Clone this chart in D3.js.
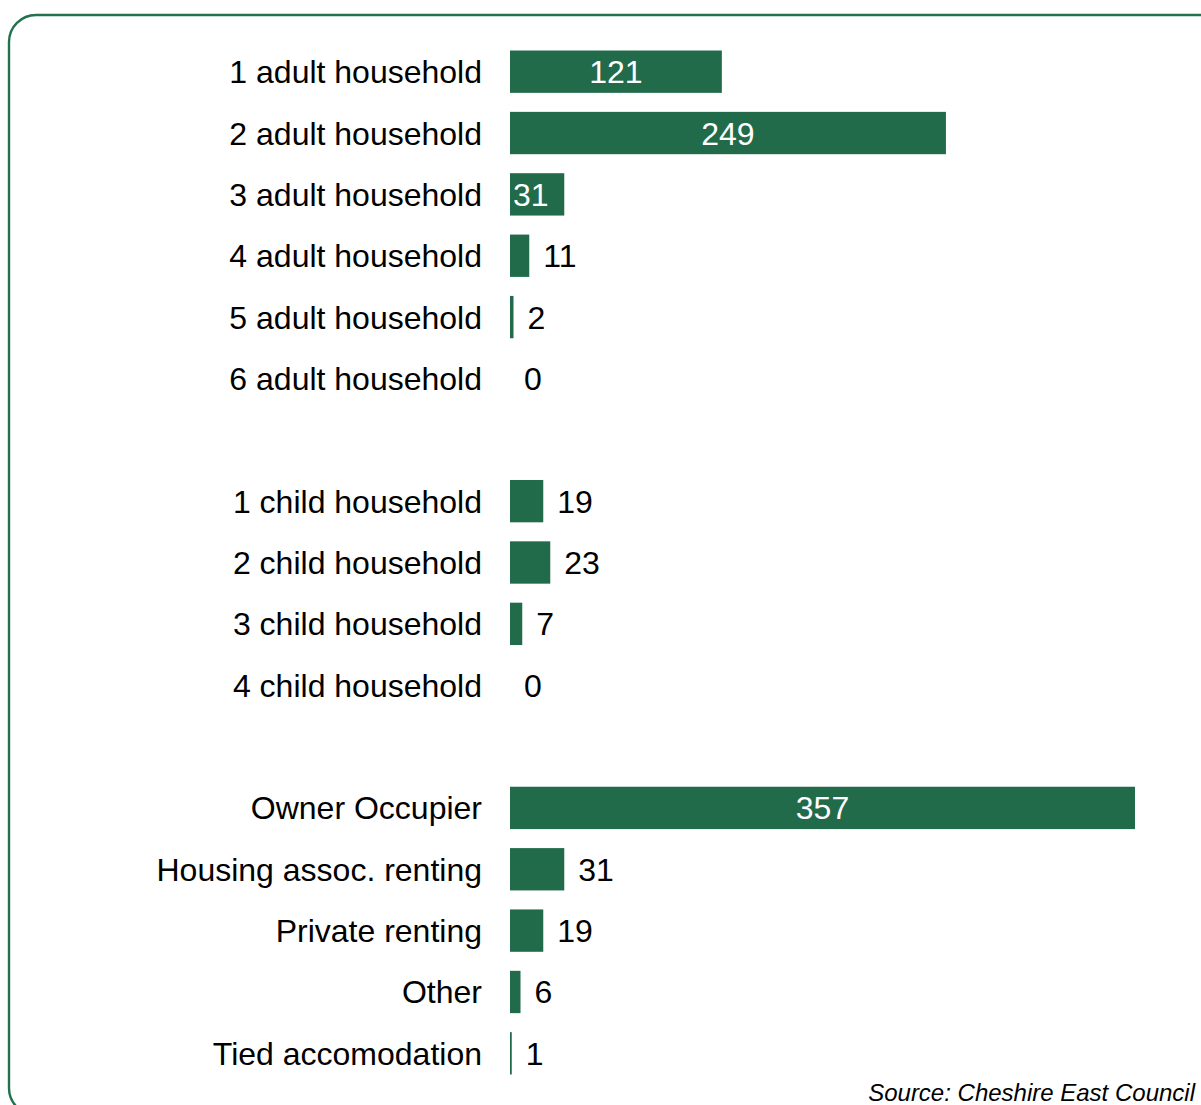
<!DOCTYPE html>
<html>
<head>
<meta charset="utf-8">
<script src="https://cdn.jsdelivr.net/npm/d3@7"></script>
<style>
  body { margin: 0; background: #fff; }
  svg { display: block; font-family: "Liberation Sans", Arial, sans-serif; }
</style>
</head>
<body>
<svg id="chart"></svg>
<script>
// household size (adults)
var adultLabels = ["1 adult household", "2 adult household", "3 adult household",
                   "4 adult household", "5 adult household", "6 adult household"];
var adultValues = [121, 249, 31, 11, 2, 0];

// household size (children)
var childLabels = ["1 child household", "2 child household", "3 child household", "4 child household"];
var childValues = [19, 23, 7, 0];

// tenure
var tenureLabels = ["Owner Occupier", "Housing assoc. renting", "Private renting", "Other", "Tied accomodation"];
var tenureValues = [357, 31, 19, 6, 1];

var sourceText = "Source: Cheshire East Council";

// labels drawn in white inside the bar
var insideLabels = ["1 adult household", "2 adult household", "3 adult household", "Owner Occupier"];

var width = 1201, height = 1105;
var svg = d3.select("#chart").attr("width", width).attr("height", height);

//build rows, with a spacer slot between groups
var rows = [];
adultLabels.forEach(function(l, i) { rows.push({key: l, label: l, value: adultValues[i]}); });
rows.push({key: "gap1", label: null});
childLabels.forEach(function(l, i) { rows.push({key: l, label: l, value: childValues[i]}); });
rows.push({key: "gap2", label: null});
tenureLabels.forEach(function(l, i) { rows.push({key: l, label: l, value: tenureValues[i]}); });

var bars = rows.filter(function(d) { return d.label !== null; });

//scales
var xscale = d3.scaleLinear().domain([0, 357]).range([510, 1135]);
var yscale = d3.scaleBand()
    .domain(rows.map(function(d) { return d.key; }))
    .range([41, 1084])
    .paddingInner(0.31)
    .paddingOuter(0.155);

//frame (runs off the bottom and right edges)
svg.append("rect")
    .attr("x", 9).attr("y", 15)
    .attr("width", 1230).attr("height", 1100)
    .attr("rx", 27).attr("ry", 27)
    .attr("fill", "none")
    .attr("stroke", "#23724f")
    .attr("stroke-width", 2.4);

//bars
svg.selectAll("rect.bar")
    .data(bars)
    .enter()
    .append("rect")
    .attr("class", "bar")
    .attr("x", xscale(0))
    .attr("y", function(d) { return yscale(d.key); })
    .attr("height", yscale.bandwidth())
    .attr("width", function(d) { return xscale(d.value) - xscale(0); })
    .attr("fill", "#216a4a");

//category labels
svg.selectAll("text.cat")
    .data(bars)
    .enter()
    .append("text")
    .attr("class", "cat")
    .attr("x", 482)
    .attr("y", function(d) { return yscale(d.key) + yscale.bandwidth() / 2; })
    .attr("dy", "0.36em")
    .attr("text-anchor", "end")
    .style("font-size", "32px")
    .attr("fill", "#000")
    .text(function(d) { return d.label; });

//value labels
svg.selectAll("text.val")
    .data(bars)
    .enter()
    .append("text")
    .attr("class", "val")
    .attr("x", function(d) {
        if (insideLabels.indexOf(d.key) >= 0) {
            if (d.value < 50) return xscale(0) + 3;
            return (xscale(0) + xscale(d.value)) / 2;
        }
        return xscale(d.value) + 14;
    })
    .attr("y", function(d) { return yscale(d.key) + yscale.bandwidth() / 2; })
    .attr("dy", "0.36em")
    .attr("text-anchor", function(d) {
        if (insideLabels.indexOf(d.key) >= 0 && d.value >= 50) return "middle";
        return "start";
    })
    .style("font-size", "32px")
    .attr("fill", function(d) { return insideLabels.indexOf(d.key) >= 0 ? "#fff" : "#000"; })
    .text(function(d) { return d.value; });

//source note
svg.append("text")
    .attr("x", 1195)
    .attr("y", 1101)
    .attr("text-anchor", "end")
    .style("font-size", "24px")
    .style("font-style", "italic")
    .text(sourceText);
</script>
</body>
</html>
